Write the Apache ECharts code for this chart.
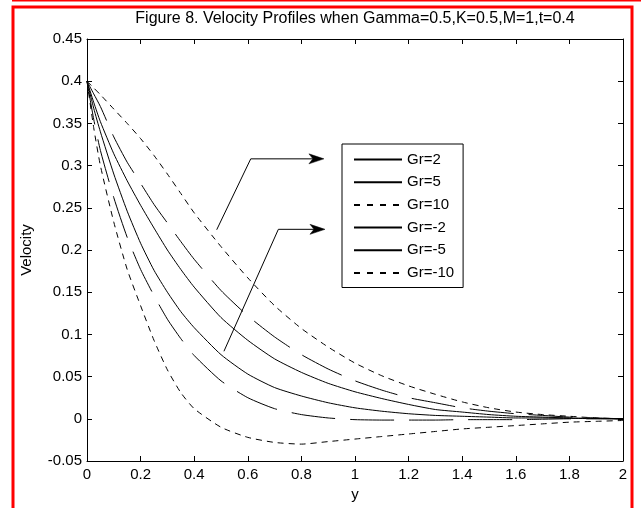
<!DOCTYPE html>
<html>
<head>
<meta charset="utf-8">
<script src="https://cdn.jsdelivr.net/npm/echarts@6/dist/echarts.min.js"></script>
<style>
  html, body { margin: 0; padding: 0; background: #fff; }
  #chart { width: 641px; height: 508px; }
</style>
</head>
<body>
<div id="chart"></div>
<script>
// y positions (x-axis), shared by every curve
const ys = [0, 0.025, 0.05, 0.1, 0.15, 0.2, 0.25, 0.3, 0.35, 0.4, 0.5, 0.6, 0.7, 0.8, 0.9,
  1.0, 1.1, 1.2, 1.3, 1.4, 1.5, 1.6, 1.7, 1.8, 1.9, 2.0]

const gr2 = [0.4, 0.375, 0.352, 0.314, 0.282, 0.253, 0.226, 0.2, 0.177, 0.156, 0.12, 0.093, 0.071,
  0.055, 0.042, 0.032, 0.024, 0.017, 0.011, 0.008, 0.005, 0.003, 0.002, 0.001, 0.0005, 0]
const gr5 = [0.4, 0.385, 0.37, 0.334, 0.304, 0.279, 0.254, 0.232, 0.21, 0.189, 0.152, 0.122, 0.097,
  0.076, 0.059, 0.045, 0.034, 0.025, 0.019, 0.013, 0.009, 0.006, 0.004, 0.002, 0.001, 0]
const gr10 = [0.4, 0.392, 0.384, 0.367, 0.35, 0.332, 0.312, 0.29, 0.267, 0.244, 0.204, 0.167, 0.134,
  0.107, 0.085, 0.066, 0.051, 0.039, 0.029, 0.02, 0.013, 0.008, 0.005, 0.003, 0.001, 0]
const grm2 = [0.4, 0.368, 0.34, 0.29, 0.246, 0.208, 0.176, 0.15, 0.127, 0.108, 0.076, 0.053, 0.037,
  0.027, 0.019, 0.013, 0.009, 0.006, 0.004, 0.003, 0.002, 0.001, 0.001, 0.0005, 0.0002, 0]
const grm5 = [0.4, 0.355, 0.318, 0.262, 0.215, 0.177, 0.146, 0.118, 0.095, 0.075, 0.045, 0.025, 0.012,
  0.005, 0.001, -0.001, -0.0015, -0.0015, -0.0015, -0.001, -0.001, -0.001, -0.0005, 0, 0, 0]
const grm10 = [0.4, 0.345, 0.3, 0.233, 0.177, 0.134, 0.093, 0.058, 0.031, 0.012, -0.01, -0.022, -0.028,
  -0.03, -0.027, -0.024, -0.021, -0.018, -0.015, -0.012, -0.01, -0.008, -0.006, -0.004, -0.003, -0.002]

const names = ['Gr=2', 'Gr=5', 'Gr=10', 'Gr=-2', 'Gr=-5', 'Gr=-10']
const values = [gr2, gr5, gr10, grm2, grm5, grm10]

// annotation arrows, in data coordinates: start, bend, tip
const arrowA = [[0.484, 0.224], [0.611, 0.308], [0.884, 0.308]]
const arrowB = [[0.511, 0.080], [0.714, 0.2245], [0.888, 0.2245]]

const shortDash = [6, 5]
const longDash = [44, 15]
const dashes = ['solid', longDash, shortDash, 'solid', longDash, shortDash]

const font = 'Liberation Sans, Arial, sans-serif'

const chart = echarts.init(document.getElementById('chart'))

const axisCommon = {
  type: 'value',
  axisLine: { show: true, onZero: false, lineStyle: { color: '#000', width: 1 } },
  axisTick: { show: true, inside: true, length: 5, lineStyle: { color: '#000' } },
  splitLine: { show: false }
}

chart.setOption({
  animation: false,
  backgroundColor: '#fff',
  title: {
    text: 'Figure 8. Velocity Profiles when Gamma=0.5,K=0.5,M=1,t=0.4',
    left: 355,
    textAlign: 'center',
    top: 11,
    padding: 0,
    textStyle: { fontFamily: font, fontSize: 16, fontWeight: 'normal', color: '#000' }
  },
  grid: { left: 87, right: 18, top: 39, bottom: 47 },
  legend: {
    orient: 'vertical',
    left: 342,
    top: 144,
    padding: [8, 9, 7, 11],
    itemWidth: 48,
    itemHeight: 14,
    itemGap: 7.7,
    itemTextGap: 12,
    borderColor: '#000',
    borderWidth: 1,
    backgroundColor: '#fff',
    borderRadius: 0,
    textStyle: { fontFamily: font, fontSize: 15, color: '#000' },
    data: names.map((n, i) => ({
      name: n,
      itemStyle: { opacity: 0, color: 'transparent', borderColor: 'transparent' },
      lineStyle: { type: i === 2 || i === 5 ? [6, 7] : 'solid' }
    }))
  },
  xAxis: [
    Object.assign({}, axisCommon, {
      min: 0, max: 2, interval: 0.2,
      position: 'bottom',
      name: 'y',
      nameLocation: 'middle',
      nameGap: 19,
      nameTextStyle: { fontFamily: font, fontSize: 15, color: '#000' },
      axisLabel: { fontFamily: font, fontSize: 15, color: '#000', margin: 6 }
    }),
    Object.assign({}, axisCommon, {
      min: 0, max: 2, interval: 0.2,
      position: 'top',
      axisLabel: { show: false }
    })
  ],
  yAxis: [
    Object.assign({}, axisCommon, {
      min: -0.05, max: 0.45, interval: 0.05,
      position: 'left',
      name: 'Velocity',
      nameLocation: 'middle',
      nameGap: 53,
      nameTextStyle: { fontFamily: font, fontSize: 15, color: '#000' },
      axisLabel: { fontFamily: font, fontSize: 15, color: '#000', margin: 5 }
    }),
    Object.assign({}, axisCommon, {
      min: -0.05, max: 0.45, interval: 0.05,
      position: 'right',
      axisLabel: { show: false }
    })
  ],
  series: names.map((n, i) => ({
    name: n,
    type: 'line',
    symbol: 'none',
    smooth: 0.2,
    color: '#000',
    lineStyle: { color: '#000', width: 1, type: dashes[i] },
    data: ys.map((y, k) => [y, values[i][k]])
  }))
})

function arrowGraphic (pts) {
  const px = pts.map(p => chart.convertToPixel({ gridIndex: 0 }, p))
  const tip = px[2]
  const len = 15
  const half = 5
  const notch = 4
  return [
    {
      type: 'polyline',
      shape: { points: [px[0], px[1], [tip[0] - len + notch, tip[1]]] },
      style: { stroke: '#000', lineWidth: 1, fill: null },
      z: 20
    },
    {
      type: 'polygon',
      shape: {
        points: [
          tip,
          [tip[0] - len, tip[1] - half],
          [tip[0] - len + notch, tip[1]],
          [tip[0] - len, tip[1] + half]
        ]
      },
      style: { fill: '#000', stroke: '#000', lineWidth: 0.5 },
      z: 20
    }
  ]
}

chart.setOption({
  graphic: [
    {
      type: 'rect',
      shape: { x: 13, y: 7, width: 619, height: 540 },
      style: { fill: null, stroke: '#ff0000', lineWidth: 3 },
      z: 30
    },
    {
      type: 'line',
      shape: { x1: 12, y1: 0.5, x2: 641, y2: 0.5 },
      style: { stroke: '#ff0000', lineWidth: 2 },
      z: 30
    }
  ].concat(arrowGraphic(arrowA), arrowGraphic(arrowB))
})
</script>
</body>
</html>
